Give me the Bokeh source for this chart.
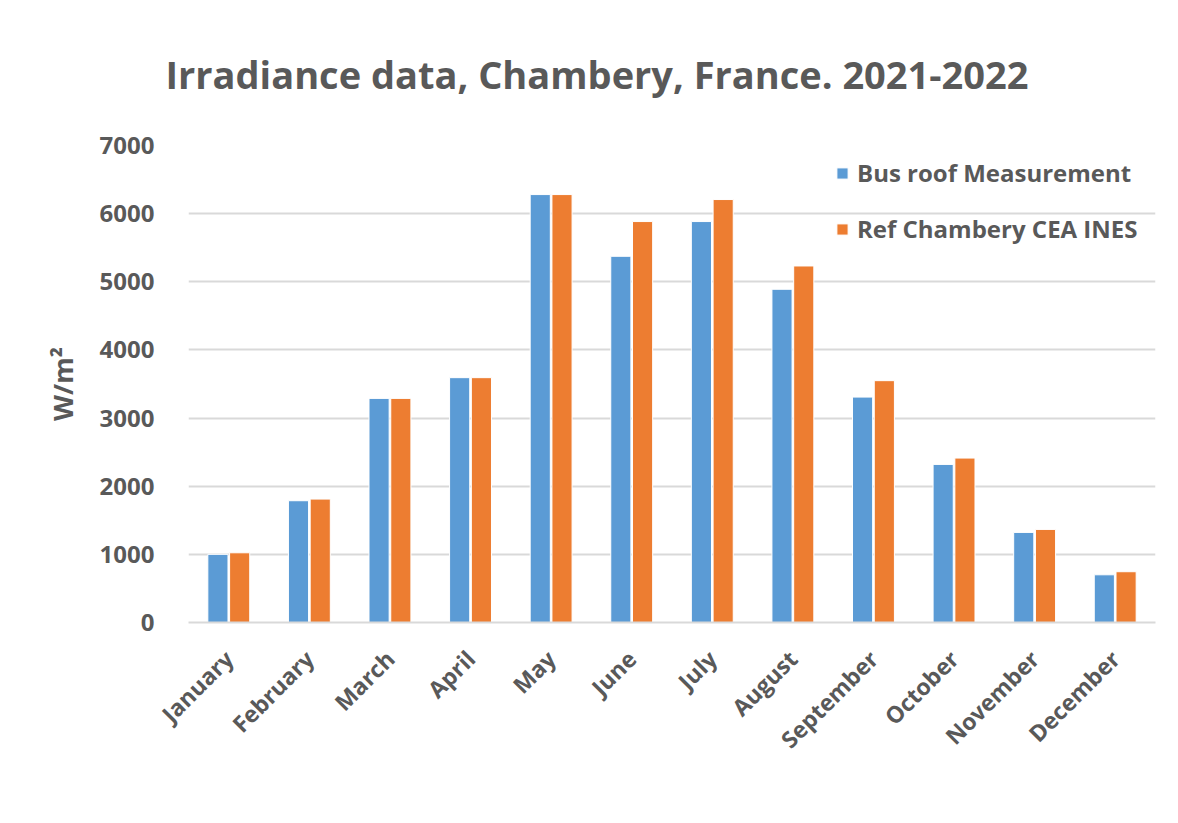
import math
from bokeh.plotting import figure
from bokeh.models import ColumnDataSource, Legend, LegendItem, FactorRange
from bokeh.transform import dodge
from bokeh.embed import file_html
from bokeh.resources import INLINE

months = ["January", "February", "March", "April", "May", "June", "July",
          "August", "September", "October", "November", "December"]
bus_roof = [1000, 1787, 3289, 3593, 6280, 5374, 5884, 4890, 3308, 2320, 1322, 700]
ref_chambery = [1023, 1811, 3289, 3593, 6280, 5884, 6207, 5232, 3549, 2413, 1366, 745]
y_ticks = [0, 1000, 2000, 3000, 4000, 5000, 6000, 7000]

BLUE = "#5B9BD5"
ORANGE = "#ED7D31"
GRAY = "#595959"
FONT = "Open Sans"

src = ColumnDataSource(dict(month=months, bus=bus_roof, ref=ref_chambery))

p = figure(x_range=FactorRange(*months, range_padding=0), y_range=(0, 7000),
           width=1170, height=815, output_backend="svg", toolbar_location=None,
           min_border_left=188, min_border_right=15, min_border_top=145,
           min_border_bottom=193)

p.title.text = "Irradiance data, Chambery, France. 2021-2022"
p.title.align = "left"
p.title.vertical_align = "top"
p.title.text_font = FONT
p.title.text_font_size = "38px"
p.title.text_font_style = "bold"
p.title.text_color = GRAY
p.title.offset = -23
p.title.standoff = 88

r1 = p.vbar(x=dodge("month", -0.135, range=p.x_range), top="bus", width=0.25,
            source=src, fill_color=BLUE, line_color="white", line_width=1)
r2 = p.vbar(x=dodge("month", 0.135, range=p.x_range), top="ref", width=0.25,
            source=src, fill_color=ORANGE, line_color="white", line_width=1)

legend = Legend(items=[LegendItem(label="Bus roof Measurement", renderers=[r1]),
                       LegendItem(label="Ref Chambery CEA INES", renderers=[r2])],
                location=(647, 377), orientation="vertical")
legend.border_line_color = None
legend.background_fill_alpha = 0
legend.padding = 0
legend.margin = 0
legend.spacing = 23
legend.glyph_width = 14
legend.glyph_height = 14
legend.label_height = 33
legend.label_standoff = 8
legend.label_text_font = FONT
legend.label_text_font_size = "24px"
legend.label_text_font_style = "bold"
legend.label_text_color = GRAY
p.add_layout(legend, "center")

p.outline_line_color = None
p.xgrid.grid_line_color = None
p.ygrid.grid_line_color = "#d9d9d9"
p.ygrid.grid_line_width = 2
p.yaxis.ticker = y_ticks
p.yaxis.axis_line_color = None
p.yaxis.major_tick_line_color = None
p.yaxis.minor_tick_line_color = None
p.yaxis.major_label_text_font = FONT
p.yaxis.major_label_text_font_size = "24px"
p.yaxis.major_label_text_font_style = "bold"
p.yaxis.major_label_text_color = GRAY
p.yaxis.major_label_standoff = 28
p.yaxis.axis_label = "W/m²"
p.yaxis.axis_label_text_font = FONT
p.yaxis.axis_label_text_font_size = "27px"
p.yaxis.axis_label_text_font_style = "bold"
p.yaxis.axis_label_text_color = GRAY
p.yaxis.axis_label_standoff = 16

p.xaxis.axis_line_color = "#d9d9d9"
p.xaxis.axis_line_width = 2
p.xaxis.major_tick_line_color = None
p.xaxis.minor_tick_line_color = None
p.xaxis.major_label_orientation = math.pi / 4
p.xaxis.major_label_text_font = FONT
p.xaxis.major_label_text_font_size = "23px"
p.xaxis.major_label_text_font_style = "bold"
p.xaxis.major_label_text_color = GRAY
p.xaxis.major_label_standoff = 26

open("out.html", "w").write(file_html(p, INLINE))
